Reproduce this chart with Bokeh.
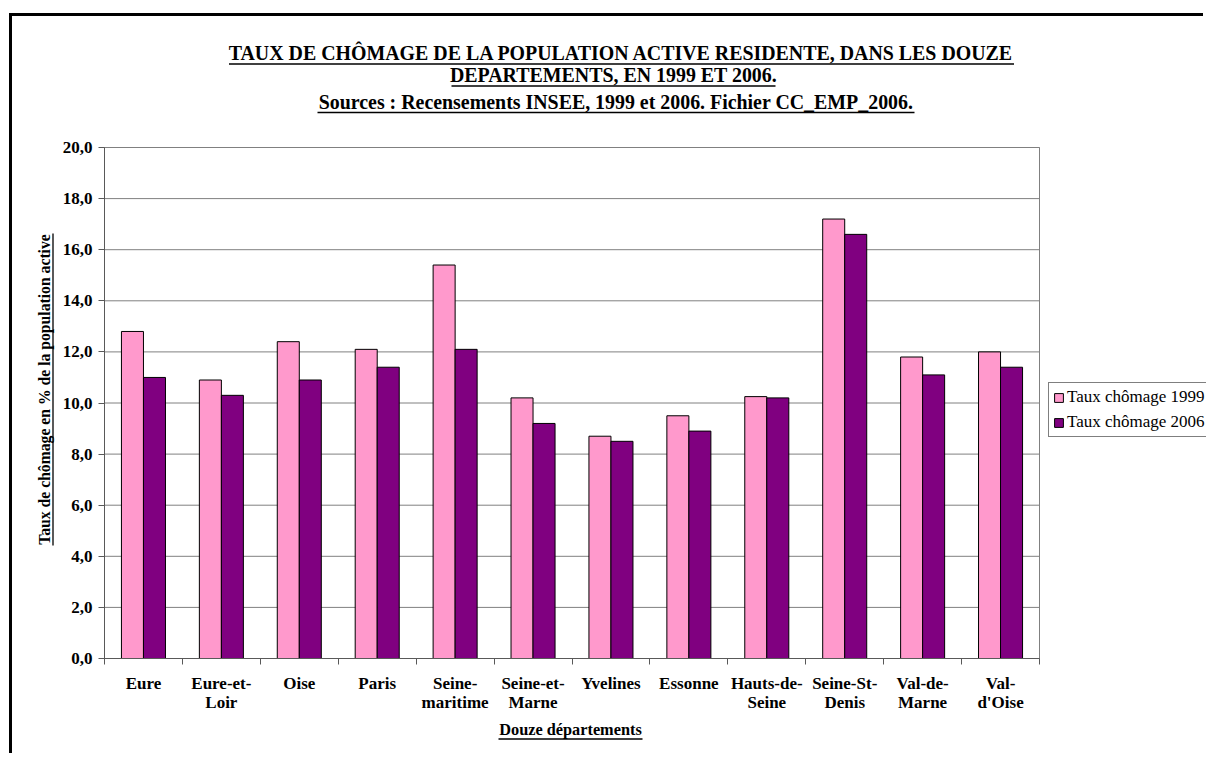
from bokeh.plotting import figure
from bokeh.models import (Range1d, FixedTicker, Legend, LegendItem, Label, Arrow,
                          ColumnDataSource)
from bokeh.transform import dodge
from bokeh.embed import file_html
from bokeh.resources import INLINE
import math

# ---------------- data ----------------
departements = ["Eure", "Eure-et-\nLoir", "Oise", "Paris", "Seine-\nmaritime",
                "Seine-et-\nMarne", "Yvelines", "Essonne", "Hauts-de-\nSeine",
                "Seine-St-\nDenis", "Val-de-\nMarne", "Val-\nd'Oise"]
taux_1999 = [12.8, 10.9, 12.4, 12.1, 15.4, 10.2, 8.7, 9.5, 10.25, 17.2, 11.8, 12.0]
taux_2006 = [11.0, 10.3, 10.9, 11.4, 12.1, 9.2, 8.5, 8.9, 10.2, 16.6, 11.1, 11.4]
y_ticks = [0, 2, 4, 6, 8, 10, 12, 14, 16, 18, 20]
series_labels = ["Taux chômage 1999", "Taux chômage 2006"]
title_lines = ["TAUX DE CHÔMAGE DE LA POPULATION ACTIVE RESIDENTE, DANS LES DOUZE",
               "DEPARTEMENTS, EN 1999 ET 2006.",
               "Sources : Recensements INSEE, 1999 et 2006. Fichier CC_EMP_2006."]
y_title = "Taux de chômage en % de la population active"
x_title = "Douze départements"

FONT = "Liberation Serif"
n = len(departements)
y_max = y_ticks[-1]

# ---------------- layout (page pixels) ----------------
OX, OY = 12, 16            # canvas origin on the page (after CSS border)
W, H = 1194, 740           # canvas size
PX0, PX1 = 104, 1039       # plot area left / right
PY1, PY0 = 147, 658        # plot area top / bottom
sx = n / (PX1 - PX0)
sy = y_max / (PY0 - PY1)
BASE_SHIFT = 0.41          # label anchor correction (in em)


def dx(px):
    return (px - PX0) * sx


def dy(py):
    return (PY0 - py) * sy


x_range = Range1d(dx(OX), dx(OX + W))
y_range = Range1d(dy(OY + H), dy(OY))

centers = [i + 0.5 for i in range(n)]
bar_w = 0.2825

src = ColumnDataSource(dict(x=centers, t1999=taux_1999, t2006=taux_2006))

p = figure(width=W, height=H, x_range=x_range, y_range=y_range,
           output_backend="svg", toolbar_location=None, min_border=0)
p.styles = {"border-top": "3px solid black", "border-left": "3px solid black"}
p.margin = (13, 0, 0, 9)
p.background_fill_color = "white"
p.border_fill_color = "white"
p.outline_line_color = None
p.xgrid.visible = False
p.ygrid.visible = False

# horizontal grid lines (from the tick list) and plot-area border
p.segment(x0=0, x1=n, y0=y_ticks, y1=y_ticks, line_color="#808080", line_width=1)
p.quad(left=0, right=n, bottom=0, top=y_max, fill_color=None,
       line_color="#808080", line_width=1)

r1 = p.vbar(x=dodge("x", -bar_w / 2), top="t1999", width=bar_w, source=src,
            fill_color="#FF99CC", line_color="black", line_width=1)
r2 = p.vbar(x=dodge("x", bar_w / 2), top="t2006", width=bar_w, source=src,
            fill_color="#800080", line_color="black", line_width=1)

# x axis
xa = p.xaxis[0]
xa.fixed_location = 0
xa.bounds = (0, n)
xa.ticker = FixedTicker(ticks=centers, minor_ticks=list(range(n + 1)))
xa.major_label_overrides = {c: d for c, d in zip(centers, departements)}
xa.major_tick_line_color = None
xa.major_tick_in = 0
xa.major_tick_out = 6
xa.minor_tick_in = 0
xa.minor_tick_out = 6
xa.minor_tick_line_color = "#595959"
xa.axis_line_color = "#595959"
xa.major_label_standoff = 9
xa.major_label_text_font = FONT
xa.major_label_text_font_style = "bold"
xa.major_label_text_font_size = "17px"
xa.major_label_text_line_height = 1.03
xa.major_label_text_color = "black"

# y axis
ya = p.yaxis[0]
ya.fixed_location = 0
ya.bounds = (0, y_max)
ya.ticker = FixedTicker(ticks=y_ticks, minor_ticks=[])
ya.major_label_overrides = {t: f"{t:.1f}".replace(".", ",") for t in y_ticks}
ya.major_tick_in = 0
ya.major_tick_out = 6
ya.major_tick_line_color = "#595959"
ya.axis_line_color = "#595959"
ya.major_label_standoff = 6
ya.major_label_text_font = FONT
ya.major_label_text_font_style = "bold"
ya.major_label_text_font_size = "17px"
ya.major_label_text_color = "black"

# legend (screen units from the frame's bottom-left corner)
legend = Legend(items=[LegendItem(label=series_labels[0], renderers=[r1]),
                       LegendItem(label=series_labels[1], renderers=[r2])],
                location=(1048 - OX, (OY + H) - 437), orientation="vertical",
                border_line_color="black", border_line_width=1,
                background_fill_color="white", background_fill_alpha=1,
                label_text_font=FONT, label_text_font_size="17px",
                label_text_color="black", glyph_width=11, glyph_height=11,
                label_height=20, label_standoff=3, spacing=5, padding=4,
                margin=0)
p.add_layout(legend)


def underline(x0, y0, x1, y1, w=1.5):
    p.add_layout(Arrow(start=None, end=None, x_start=dx(x0), y_start=dy(y0),
                       x_end=dx(x1), y_end=dy(y1), line_color="black",
                       line_width=w))


# title lines: (text, centre x, baseline y, underline y, underline width) in page px
TFS = 19.9
title_specs = [(title_lines[0], 621, 61, 63.5, 785),
               (title_lines[1], 613, 83, 85.5, 324),
               (title_lines[2], 615.5, 109.5, 112, 597)]
for text, cx, yb, yu, wd in title_specs:
    p.add_layout(Label(x=dx(cx), y=dy(yb - BASE_SHIFT * TFS), text=text,
                       text_align="center", text_baseline="alphabetic",
                       text_font=FONT, text_font_style="bold",
                       text_font_size=f"{TFS}px", text_color="black"))
    underline(cx - wd / 2, yu, cx + wd / 2, yu, 1.6)

# y axis title (rotated) + underline
YT_CY = 389
YFS = 15.7
p.add_layout(Label(x=dx(50 - BASE_SHIFT * YFS), y=dy(YT_CY), text=y_title,
                   angle=math.pi / 2,
                   text_align="center", text_baseline="alphabetic",
                   text_font=FONT, text_font_style="bold",
                   text_font_size=f"{YFS}px", text_color="black"))
underline(52.5, YT_CY + 156, 52.5, YT_CY - 156, 1.3)

# x axis title + underline
XT_CX = 570
XFS = 16.3
p.add_layout(Label(x=dx(XT_CX), y=dy(736 - BASE_SHIFT * XFS), text=x_title,
                   text_align="center", text_baseline="alphabetic",
                   text_font=FONT, text_font_style="bold",
                   text_font_size=f"{XFS}px", text_color="black"))
underline(XT_CX - 72, 738.5, XT_CX + 72, 738.5, 1.3)

open("out.html", "w").write(file_html(p, INLINE))
